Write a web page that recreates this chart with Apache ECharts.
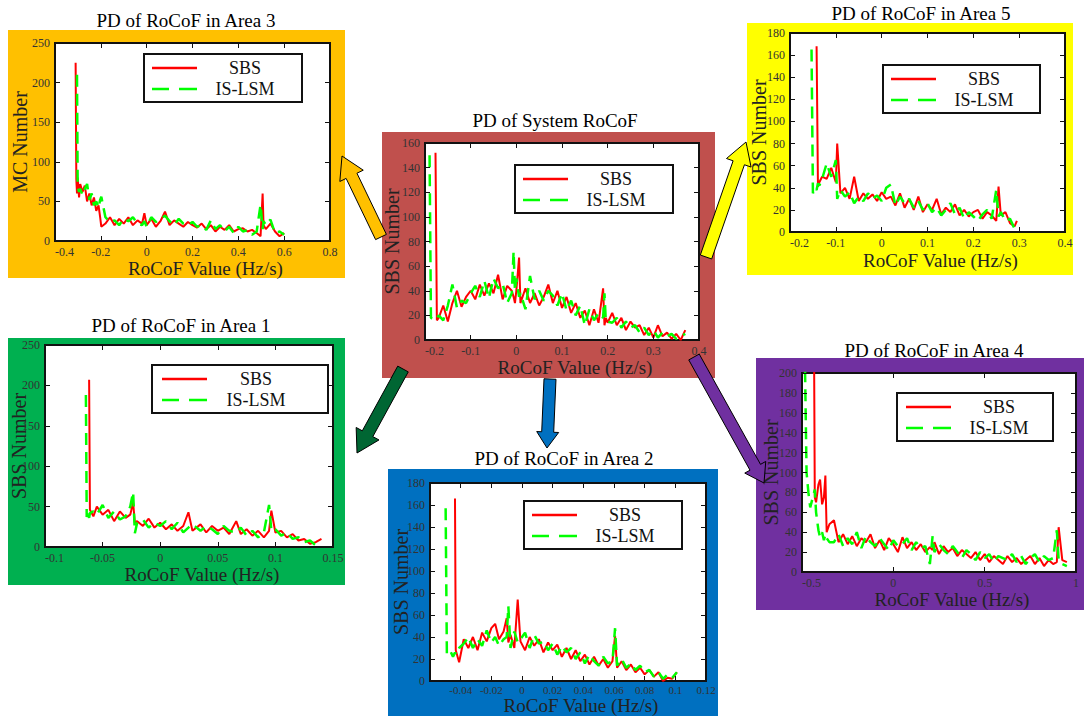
<!DOCTYPE html>
<html><head><meta charset="utf-8">
<script src="https://cdn.jsdelivr.net/npm/echarts@6.0.0/dist/echarts.min.js"></script>
<style>html,body{margin:0;padding:0;background:#fff}#c{width:1084px;height:716px}</style>
</head><body><div id="c"></div>
<script>
// ---------------- DATA ----------------
const a3X = [-0.31,-0.307,-0.304,-0.301,-0.295,-0.29,-0.28,-0.27,-0.26,-0.25,-0.24,-0.23,-0.22,-0.21,-0.203,-0.198,
 -0.18,-0.16,-0.14,-0.12,-0.1,-0.08,-0.06,-0.04,-0.02,-0.01,0,
 0.02,0.04,0.06,0.08,0.1,0.12,0.14,0.16,0.18,0.2,0.22,0.24,0.26,0.28,0.3,0.32,0.34,0.36,0.38,0.4,0.42,0.44,0.46,0.48,
 0.497,0.506,0.51,0.52,0.54,0.56,0.58,0.6];
const a3SBS = [225,78,60,80,55,72,62,70,50,60,45,55,38,45,30,18,
 22,30,20,28,22,30,20,26,22,35,20,
 28,18,25,37,20,26,22,18,24,20,17,22,15,20,12,18,14,20,12,15,16,12,14,10,
 6,60,20,15,22,12,6,10];
const a3LSM = [null,null,210,68,62,66,58,66,72,52,60,45,50,42,52,56,
 30,24,26,20,28,25,30,22,20,25,18,
 30,24,28,32,25,20,28,22,20,24,18,20,14,26,15,20,12,18,10,18,12,14,8,12,
 46,15,25,20,27,10,12,8];

const sysX = [-0.19,-0.187,-0.183,-0.177,-0.174,
 -0.17,-0.16,-0.15,-0.14,-0.13,-0.12,-0.11,-0.1,-0.09,-0.08,-0.07,-0.06,-0.05,-0.04,-0.03,-0.02,-0.01,
 -0.006,-0.003,0,0.006,0.009,
 0.02,0.03,0.04,0.05,0.06,0.07,0.08,0.09,0.1,0.11,0.12,0.13,0.14,0.15,0.16,0.17,0.18,0.19,
 0.193,0.196,
 0.2,0.21,0.22,0.23,0.24,0.25,0.26,0.27,0.28,0.29,0.3,0.31,0.32,0.33,0.34,0.35,0.36,0.37];
const sysSBS = [null,null,null,152,16,
 18,28,15,30,40,27,35,40,33,45,36,46,38,53,33,44,40,
 35,30,40,67,30,
 42,30,38,28,35,45,30,40,26,35,22,30,18,24,12,25,14,42,
 12,18,
 14,22,12,18,8,15,10,12,4,10,2,12,3,6,1,5,0,8];
const sysLSM = [150,18,17,19,18,
 20,16,28,45,26,32,30,38,44,35,48,34,50,42,46,30,38,
 72,40,50,35,38,
 25,52,33,40,32,40,36,28,38,24,32,20,28,12,25,16,22,18,
 38,15,
 15,14,18,10,15,10,12,6,10,4,8,2,6,3,5,1,3,5];

const a5X = [-0.153,-0.15,-0.146,-0.142,-0.139,-0.136,
 -0.13,-0.12,-0.11,-0.1,-0.097,-0.09,-0.08,-0.07,-0.06,-0.05,-0.04,-0.03,-0.02,-0.01,0,
 0.01,0.02,0.03,0.04,0.05,0.06,0.07,0.08,0.09,0.1,0.11,0.12,0.13,0.14,0.15,0.16,0.17,0.18,0.19,0.2,0.21,0.22,0.23,0.24,0.25,
 0.255,0.26,0.27,0.28,0.29,0.295];
const a5SBS = [null,null,null,168,41,45,
 50,48,58,45,80,35,40,30,50,28,35,30,34,28,36,
 30,32,24,35,22,30,20,32,18,25,20,30,16,22,18,25,15,20,14,18,20,12,18,15,10,
 41,15,18,8,5,10];
const a5LSM = [165,35,40,38,44,42,
 48,62,50,65,30,38,32,36,26,32,28,35,30,33,28,
 40,43,24,32,26,30,22,28,20,26,18,22,15,20,26,16,22,12,18,14,10,16,20,12,38,
 14,18,10,12,3,0];

const a1X = [-0.0645,-0.0638,-0.063,-0.0617,-0.061,
 -0.058,-0.055,-0.05,-0.045,-0.04,-0.035,-0.03,-0.026,-0.0235,-0.022,
 -0.02,-0.015,-0.01,-0.005,0,0.005,0.01,0.015,0.02,0.0245,
 0.028,0.035,0.04,0.045,0.05,0.055,0.06,0.066,0.07,0.075,
 0.08,0.085,0.09,0.0945,0.0965,0.1,0.105,0.11,0.115,0.12,
 0.125,0.13,0.135,0.14];
const a1SBS = [null,null,null,207,46,
 38,50,40,46,32,44,36,40,55,30,
 32,26,35,24,30,22,28,20,26,43,
 20,28,18,26,20,24,16,32,16,22,
 14,20,12,20,45,18,20,12,16,8,
 10,4,6,10];
const a1LSM = [188,37,45,36,42,
 44,40,52,36,44,34,38,50,68,17,
 30,34,24,30,26,32,22,30,18,24,
 28,20,26,22,16,26,20,18,24,14,
 20,12,18,52,20,22,14,18,10,12,
 6,8,2,4];

const a2X = [-0.0498,-0.049,-0.047,-0.045,-0.0437,-0.0432,-0.041,-0.038,-0.035,-0.032,
 -0.029,-0.026,-0.023,-0.02,-0.0175,-0.015,-0.012,-0.01,-0.0089,-0.0075,
 -0.005,-0.0028,-0.001,0.002,0.005,0.008,0.011,0.014,0.017,0.02,
 0.023,0.026,0.029,0.032,0.035,0.038,0.041,0.044,0.047,0.05,
 0.053,0.056,0.059,0.0607,0.062,0.065,0.068,0.071,0.074,0.077,
 0.08,0.083,0.086,0.089,0.092,0.095,0.098,0.101];
const a2SBS = [null,null,null,null,166,28,17,38,30,40,
 28,44,36,48,52,38,45,57,35,42,
 30,74,36,28,40,32,38,26,35,28,
 33,22,30,20,28,18,24,15,22,14,
 20,12,18,41,12,18,10,15,8,12,
 6,10,4,8,0,3,2,8];
const a2LSM = [157,25,28,22,26,24,30,34,40,30,
 38,32,46,35,40,32,38,40,68,30,
 45,35,38,44,30,42,34,36,28,34,
 24,32,26,30,20,26,16,24,18,14,
 22,16,18,48,14,20,12,16,10,14,
 8,10,4,8,2,6,3,8];

const a4X = [-0.488,-0.475,-0.465,-0.455,-0.445,-0.436,-0.43,-0.423,-0.41,-0.401,-0.39,-0.38,-0.372,-0.365,-0.35,
 -0.325,-0.3,-0.275,-0.25,-0.225,-0.2,-0.175,-0.15,-0.125,-0.1,
 -0.075,-0.05,-0.025,0,0.025,0.05,0.075,0.1,0.125,0.15,
 0.175,0.2,0.215,0.225,0.25,0.275,0.3,0.325,0.35,0.375,
 0.4,0.425,0.45,0.475,0.5,0.525,0.55,0.575,0.6,0.625,
 0.65,0.675,0.7,0.725,0.75,0.775,0.8,0.825,0.85,0.875,
 0.895,0.905,0.925,0.95];
const a4SBS = [null,null,null,null,null,300,75,70,88,93,68,75,97,40,48,
 52,30,38,28,36,26,34,30,38,24,
 32,22,34,28,20,35,24,30,22,28,
 20,25,22,30,18,26,20,24,16,22,
 18,14,20,12,18,10,16,12,8,16,
 10,14,8,12,16,8,14,6,12,8,
 10,45,12,10];
const a4LSM = [260,100,80,65,72,78,83,60,42,35,40,32,38,34,30,
 30,38,26,34,28,40,24,36,30,26,
 34,28,22,32,26,28,34,22,30,24,
 26,8,36,20,28,22,18,26,20,14,
 22,18,12,20,14,18,10,16,14,12,
 18,10,16,8,14,18,10,16,12,14,
 42,12,8,6];

const seriesNames = ['SBS', 'IS-LSM'];
const xName = 'RoCoF Value (Hz/s)';

// ---------------- LAYOUT / STYLE ----------------
const FONT = 'Liberation Serif';
const panels = [
 {title:'PD of RoCoF in Area 3', tx:186, ty:11, bg:'#FFC000', box:[8,30,337,248], grid:[55,43,275,198],
  xr:[-0.4,0.8,0.2], yr:[0,250,50], yname:'MC Number', ygap:25, xgap:18, xfs:12, xlh:12, xm:5, lg:[144,54,8,14,86],
  x:a3X, s:a3SBS, l:a3LSM},
 {title:'PD of System RoCoF', tx:555, ty:111, bg:'#C0504D', box:[382,132,333,246], grid:[425,143,274,197],
  xr:[-0.2,0.4,0.1], yr:[0,160,20], yname:'SBS Number', ygap:23, xgap:18, xfs:12, xlh:12, xm:5, lg:[515,165,8,14,86],
  x:sysX, s:sysSBS, l:sysLSM},
 {title:'PD of RoCoF in Area 5', tx:921, ty:4, bg:'#FFFF00', box:[747,23,326,252], grid:[790,33,275,199],
  xr:[-0.2,0.4,0.1], yr:[0,180,20], yname:'SBS Number', ygap:21, xgap:19, xfs:12, xlh:12, xm:5, lg:[883,65,8,13,86],
  x:a5X, s:a5SBS, l:a5LSM},
 {title:'PD of RoCoF in Area 1', tx:181, ty:316, bg:'#00B050', box:[8,338,337,247], grid:[45,345,288,202],
  xr:[-0.1,0.15,0.05], yr:[0,250,50], yname:'SBS Number', ygap:16, xgap:18, xfs:12, xlh:12, xm:5, lg:[152,365,10,28,88],
  x:a1X, s:a1SBS, l:a1LSM},
 {title:'PD of RoCoF in Area 2', tx:564, ty:449, bg:'#0070C0', box:[388,469,330,247], grid:[430,483,276,198],
  xr:[-0.06,0.12,0.02], yr:[0,180,20], yname:'SBS Number', ygap:19, xgap:15, xfs:11, xlh:11, xm:3, lg:[524,501,8,14,86],
  x:a2X, s:a2SBS, l:a2LSM},
 {title:'PD of RoCoF in Area 4', tx:934, ty:341, bg:'#7030A0', box:[756,358,328,252], grid:[802,373,274,199],
  xr:[-0.5,1,0.5], yr:[0,200,20], yname:'SBS Number', ygap:21, xgap:18, xfs:12, xlh:12, xm:5, lg:[897,393,9,11,86],
  x:a4X, s:a4SBS, l:a4LSM}
];
const arrows = [
 {T:[381,237], P:[342,156], w:6, h:13, L:22, fill:'#FFC000'},
 {T:[706,257], P:[746,142], w:6, h:13, L:22, fill:'#FFFF00'},
 {T:[403,369], P:[357,453], w:6, h:13, L:22, fill:'#006633'},
 {T:[550,379], P:[547,448], w:6, h:11, L:16, fill:'#0070C0'},
 {T:[694,357], P:[764,483], w:6, h:12, L:18, fill:'#7030A0'}
];
const ICON_SOLID = 'path://M0,0h45v2.5h-45z';
const ICON_DASH = 'path://M0,0h17v2.5h-17zM27,0h18v2.5h-18z';

function arrowPts(a){
  const dx=a.P[0]-a.T[0], dy=a.P[1]-a.T[1], len=Math.hypot(dx,dy);
  const ux=dx/len, uy=dy/len, nx=-uy, ny=ux;
  const B=[a.P[0]-ux*a.L, a.P[1]-uy*a.L];
  return [[a.T[0]+nx*a.w,a.T[1]+ny*a.w],[B[0]+nx*a.w,B[1]+ny*a.w],[B[0]+nx*a.h,B[1]+ny*a.h],a.P,
          [B[0]-nx*a.h,B[1]-ny*a.h],[B[0]-nx*a.w,B[1]-ny*a.w],[a.T[0]-nx*a.w,a.T[1]-ny*a.w]];
}
function zip(xs, ys){ return xs.map((x,i)=>[x, ys[i]==null ? null : ys[i]]); }

const grids=[], xAxes=[], yAxes=[], series=[], legends=[], graphics=[];
const tick = {show:true, inside:true, length:5, lineStyle:{color:'#111', width:1}};
const noLine = {show:false, onZero:false};
panels.forEach((p,i)=>{
  graphics.push({type:'rect', z:-1, shape:{x:p.box[0], y:p.box[1], width:p.box[2], height:p.box[3]}, style:{fill:p.bg}});
  graphics.push({type:'text', z:6, x:p.tx, y:p.ty, style:{text:p.title, fontSize:19, fontFamily:FONT, fill:'#000', align:'center', verticalAlign:'top'}});
  grids.push({left:p.grid[0], top:p.grid[1], width:p.grid[2], height:p.grid[3], show:true,
    backgroundColor:'#fff', borderColor:'#111', borderWidth:2, containLabel:false, outerBoundsMode:'none'});
  xAxes.push({type:'value', gridIndex:i, position:'bottom', min:p.xr[0], max:p.xr[1], interval:p.xr[2], z:3,
    axisLine:noLine, axisTick:tick, splitLine:{show:false},
    axisLabel:{color:'#333', fontSize:p.xfs, fontFamily:FONT, margin:p.xm, lineHeight:p.xlh, alignMinLabel:'left'},
    name:xName, nameLocation:'middle', nameGap:p.xgap, nameMoveOverlap:false,
    nameTextStyle:{fontFamily:FONT, fontSize:19, lineHeight:19, color:'#222', padding:[0,0,0,26]}});
  xAxes.push({type:'value', gridIndex:i, position:'top', min:p.xr[0], max:p.xr[1], interval:p.xr[2], z:3,
    axisLine:noLine, axisTick:tick, splitLine:{show:false}, axisLabel:{show:false}});
  yAxes.push({type:'value', gridIndex:i, position:'left', min:p.yr[0], max:p.yr[1], interval:p.yr[2], z:3,
    axisLine:noLine, axisTick:tick, splitLine:{show:false},
    axisLabel:{color:'#333', fontSize:12, fontFamily:FONT, margin:5, lineHeight:10},
    name:p.yname, nameLocation:'middle', nameGap:p.ygap, nameMoveOverlap:false,
    nameTextStyle:{fontFamily:FONT, fontSize:20, color:'#222'}});
  yAxes.push({type:'value', gridIndex:i, position:'right', min:p.yr[0], max:p.yr[1], interval:p.yr[2], z:3,
    axisLine:noLine, axisTick:tick, splitLine:{show:false}, axisLabel:{show:false}});
  series.push({type:'line', name:seriesNames[0], xAxisIndex:2*i, yAxisIndex:2*i, data:zip(p.x,p.s),
    symbol:'none', showSymbol:false, color:'#FF0000', lineStyle:{color:'#FF0000', width:2}, z:2, clip:true});
  series.push({type:'line', name:seriesNames[1], xAxisIndex:2*i, yAxisIndex:2*i, data:zip(p.x,p.l),
    symbol:'none', showSymbol:false, color:'#00FF00', lineStyle:{color:'#00FF00', width:2.5, type:[12,7]}, z:2, clip:true});
  const lg = p.lg;
  legends.push({left:lg[0], top:lg[1], orient:'vertical', selectedMode:false,
    data:[{name:seriesNames[0], icon:ICON_SOLID, itemStyle:{color:'#FF0000', borderWidth:0}},
          {name:seriesNames[1], icon:ICON_DASH, itemStyle:{color:'#00FF00', borderWidth:0}}],
    itemWidth:45, itemHeight:14, itemGap:1, padding:[4,lg[3],3,lg[2]], symbolKeepAspect:true,
    backgroundColor:'#fff', borderColor:'#111', borderWidth:2, borderRadius:0, z:5,
    formatter: n => '{t|' + n + '}',
    textStyle:{fontFamily:FONT, fontSize:18, color:'#111', lineHeight:20,
      rich:{t:{width:lg[4], align:'center', fontFamily:FONT, fontSize:18, color:'#111', lineHeight:20}}}});
});
arrows.forEach(a=>{
  graphics.push({type:'polygon', z:5, shape:{points:arrowPts(a)}, style:{fill:a.fill, stroke:'#000', lineWidth:1}});
});

const chart = echarts.init(document.getElementById('c'), null, {renderer:'svg'});
chart.setOption({
  animation:false,
  backgroundColor:'#fff',
  textStyle:{fontFamily:FONT},
  grid:grids, xAxis:xAxes, yAxis:yAxes, series:series, legend:legends,
  graphic:{elements:graphics}
});
</script></body></html>
